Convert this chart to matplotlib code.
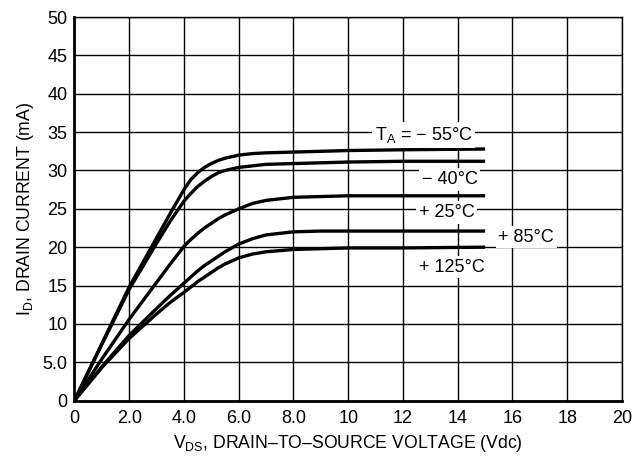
import numpy as np
import matplotlib
matplotlib.use('Agg')
import matplotlib.pyplot as plt

plt.rcParams['font.family'] = ['Liberation Sans', 'DejaVu Sans']
plt.rcParams['mathtext.fontset'] = 'custom'
plt.rcParams['mathtext.rm'] = 'Liberation Sans'

# drain voltage points (V) where the curves were read
vds = [0, 1, 2, 3, 3.5, 4, 4.25, 4.5, 4.75, 5, 5.25, 5.5, 6, 6.5, 7, 8, 9, 10, 12, 15]

# drain current (mA) per ambient temperature
id_m55 = [0, 7.4, 14.8, 21.2, 24.4, 27.5, 28.8, 29.7, 30.4, 30.9, 31.3, 31.6, 32.0, 32.2, 32.3, 32.4, 32.5, 32.6, 32.7, 32.8]
id_m40 = [0, 7.3, 14.5, 20.5, 23.4, 26.0, 27.0, 27.9, 28.6, 29.2, 29.7, 30.0, 30.4, 30.6, 30.8, 30.9, 31.0, 31.1, 31.2, 31.2]
id_p25 = [0, 5.4, 10.6, 15.4, 17.8, 20.1, 21.0, 21.8, 22.5, 23.1, 23.7, 24.2, 25.0, 25.7, 26.1, 26.5, 26.6, 26.7, 26.7, 26.7]
id_p85 = [0, 4.4, 8.5, 12.0, 13.7, 15.3, 16.1, 16.9, 17.6, 18.2, 18.8, 19.4, 20.4, 21.1, 21.6, 22.0, 22.1, 22.1, 22.1, 22.1]
id_p125 = [0, 4.3, 8.1, 11.3, 12.8, 14.1, 14.8, 15.5, 16.1, 16.7, 17.3, 17.8, 18.6, 19.1, 19.4, 19.7, 19.8, 19.9, 19.9, 20.0]

labels = ['T$_\\mathregular{A}$ = − 55°C', '− 40°C', '+ 25°C', '+ 85°C', '+ 125°C']
label_pos = [(12.75, 34.6), (13.7, 28.8), (13.6, 24.5), (16.5, 21.3), (13.8, 17.4)]

xticks = [0, 2, 4, 6, 8, 10, 12, 14, 16, 18, 20]
xticklabels = ['0', '2.0', '4.0', '6.0', '8.0', '10', '12', '14', '16', '18', '20']
yticks = [0, 5, 10, 15, 20, 25, 30, 35, 40, 45, 50]
yticklabels = ['0', '5.0', '10', '15', '20', '25', '30', '35', '40', '45', '50']

fig = plt.figure(figsize=(6.36, 4.62), dpi=100)
ax = fig.add_axes([0.117, 0.133, 0.861, 0.830])

for curve in [id_m55, id_m40, id_p25, id_p85, id_p125]:
    ax.plot(vds, curve, color='black', lw=2.4, solid_capstyle='butt',
            solid_joinstyle='round', zorder=3)

for txt, (x, y) in zip(labels, label_pos):
    ax.text(x, y, txt, ha='center', va='center', fontsize=13, zorder=4,
            bbox=dict(facecolor='white', edgecolor='none', pad=2))

ax.set_xlim(0, 20)
ax.set_ylim(0, 50)
ax.set_xticks(xticks)
ax.set_xticklabels(xticklabels)
ax.set_yticks(yticks)
ax.set_yticklabels(yticklabels)
ax.tick_params(length=0, labelsize=13)
ax.tick_params(axis='x', pad=7)
ax.tick_params(axis='y', pad=5)
ax.grid(True, color='black', lw=1.0)
ax.set_axisbelow(True)

for side in ['left', 'bottom']:
    ax.spines[side].set_linewidth(2)
for side in ['top', 'right']:
    ax.spines[side].set_linewidth(1.0)

ax.set_xlabel('V$_\\mathregular{DS}$, DRAIN–TO–SOURCE VOLTAGE (Vdc)', fontsize=12.7, labelpad=4)
ax.set_ylabel('I$_\\mathregular{D}$, DRAIN CURRENT (mA)', fontsize=12.7, labelpad=5)

fig.savefig('out.png', dpi=100)
